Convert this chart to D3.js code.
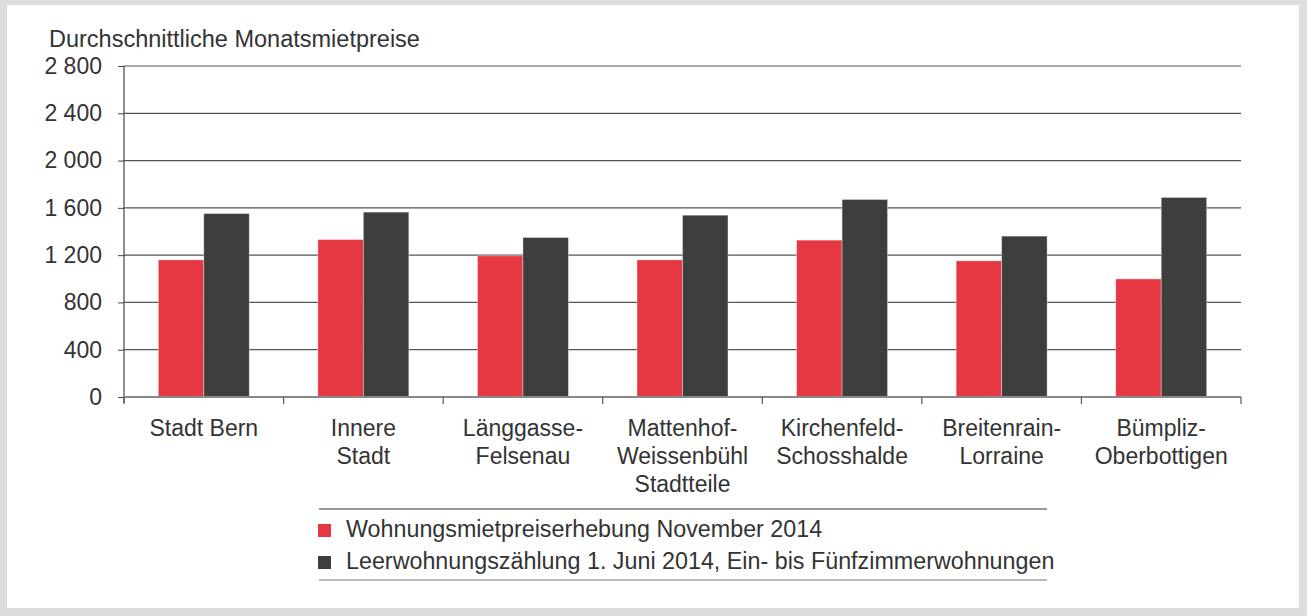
<!DOCTYPE html>
<meta charset="utf-8">
<style>
body { margin: 0; background: #fff; }
text { font-family: "Liberation Sans", Arial, sans-serif; fill: #333; }
</style>
<body>
<script src="https://cdn.jsdelivr.net/npm/d3@7"></script>
<script>

// data
var categories = [
  ["Stadt Bern"],
  ["Innere", "Stadt"],
  ["Länggasse-", "Felsenau"],
  ["Mattenhof-", "Weissenbühl", "Stadtteile"],
  ["Kirchenfeld-", "Schosshalde"],
  ["Breitenrain-", "Lorraine"],
  ["Bümpliz-", "Oberbottigen"]
];
var seriesNames = [
  "Wohnungsmietpreiserhebung November 2014",
  "Leerwohnungszählung 1. Juni 2014, Ein- bis Fünfzimmerwohnungen"
];
var mietpreis2014 = [1160, 1332, 1194, 1160, 1327, 1152, 999];
var leerwohnung2014 = [1552, 1564, 1349, 1538, 1671, 1361, 1688];
var yTicks = [0, 400, 800, 1200, 1600, 2000, 2400, 2800];
var colors = ["#e63843", "#3e3e3e"];

var W = 1314, H = 616;
var margin = {top: 66, left: 124, right: 73, bottom: 219};
var width = W - margin.left - margin.right,
    height = H - margin.top - margin.bottom;

var svg = d3.select("body").append("svg")
  .attr("width", W)
  .attr("height", H);

// grey frame
svg.append("rect").attr("x", 0).attr("y", 0).attr("width", 1307).attr("height", H)
  .attr("fill", "#dcdddf");
svg.append("rect").attr("x", 7).attr("y", 5).attr("width", 1292).attr("height", 603)
  .attr("fill", "#fff");

var g = svg.append("g")
  .attr("transform", "translate(" + margin.left + "," + margin.top + ")");

var idx = d3.range(categories.length);
var x0 = d3.scaleBand().domain(idx).range([0, width])
  .paddingInner(0.43).paddingOuter(0.215);
var x1 = d3.scaleBand().domain([0, 1]).range([0, x0.bandwidth()]);
var y = d3.scaleLinear().domain([0, 2800]).range([height, 0]);

var fmt = d3.formatLocale({decimal: ",", thousands: " ", grouping: [3], currency: ["", ""]}).format(",d");

// gridlines
g.selectAll(".grid").data(yTicks.filter(function(d) { return d > 0; }))
  .enter().append("line")
  .attr("x1", 0).attr("x2", width)
  .attr("y1", function(d) { return y(d); })
  .attr("y2", function(d) { return y(d); })
  .attr("stroke", "#555").attr("stroke-width", 1.2);

// bars
var values = [mietpreis2014, leerwohnung2014];
var groups = g.selectAll(".grp").data(idx).enter().append("g")
  .attr("transform", function(i) { return "translate(" + x0(i) + ",0)"; });
groups.selectAll("rect")
  .data(function(i) { return [0, 1].map(function(s) { return {s: s, v: values[s][i]}; }); })
  .enter().append("rect")
  .attr("x", function(d) { return x1(d.s); })
  .attr("width", x1.bandwidth())
  .attr("y", function(d) { return y(d.v); })
  .attr("height", function(d) { return y(0) - y(d.v); })
  .attr("fill", function(d) { return colors[d.s]; })
  .attr("stroke", "rgba(255,255,255,0.45)").attr("stroke-width", 0.8);

// y axis
var yAxis = d3.axisLeft(y).tickValues(yTicks).tickFormat(fmt).tickSize(6).tickPadding(16);
var ya = g.append("g").call(yAxis);
ya.select(".domain").remove();
ya.selectAll("line").attr("stroke", "#444");
ya.selectAll("text").attr("font-size", "23px").attr("fill", "#333")
  .attr("font-family", "Liberation Sans, Arial, sans-serif");
g.append("line").attr("x1", 0).attr("x2", 0).attr("y1", 0).attr("y2", height + 6)
  .attr("stroke", "#444").attr("stroke-width", 1.2);

// x axis baseline and boundary ticks
g.append("line").attr("x1", 0).attr("x2", width).attr("y1", height).attr("y2", height)
  .attr("stroke", "#888").attr("stroke-width", 2);
var gap = (x0.step() - x0.bandwidth()) / 2;
var bounds = idx.map(function(i) { return x0(i) - gap; }).concat([width]);
g.selectAll(".xt").data(bounds).enter().append("line")
  .attr("x1", function(d) { return d; }).attr("x2", function(d) { return d; })
  .attr("y1", height).attr("y2", height + 7)
  .attr("stroke", "#555").attr("stroke-width", 1.2);

// category labels
var labels = g.selectAll(".lab").data(idx).enter().append("text")
  .attr("text-anchor", "middle")
  .attr("font-size", "23px")
  .attr("transform", function(i) {
    return "translate(" + (x0(i) + x0.bandwidth() / 2) + "," + (height + 39) + ")";
  });
labels.selectAll("tspan").data(function(i) { return categories[i]; })
  .enter().append("tspan")
  .attr("x", 0)
  .attr("y", function(d, j) { return j * 28; })
  .text(function(d) { return d; });

// title
svg.append("text").attr("x", 49).attr("y", 47).attr("font-size", "23.5px")
  .text("Durchschnittliche Monatsmietpreise");

// legend
var lg = svg.append("g");
lg.append("line").attr("x1", 319).attr("x2", 1047).attr("y1", 509).attr("y2", 509)
  .attr("stroke", "#333").attr("stroke-width", 1.2);
lg.append("line").attr("x1", 319).attr("x2", 1047).attr("y1", 580).attr("y2", 580)
  .attr("stroke", "#777").attr("stroke-width", 1.2);
var items = lg.selectAll(".li").data(seriesNames).enter().append("g")
  .attr("transform", function(d, i) { return "translate(318," + (524 + i * 32) + ")"; });
items.append("rect").attr("width", 13).attr("height", 13)
  .attr("fill", function(d, i) { return colors[i]; });
items.append("text").attr("x", 28).attr("y", 13).attr("font-size", "23.3px")
  .text(function(d) { return d; });

</script>
</body>
